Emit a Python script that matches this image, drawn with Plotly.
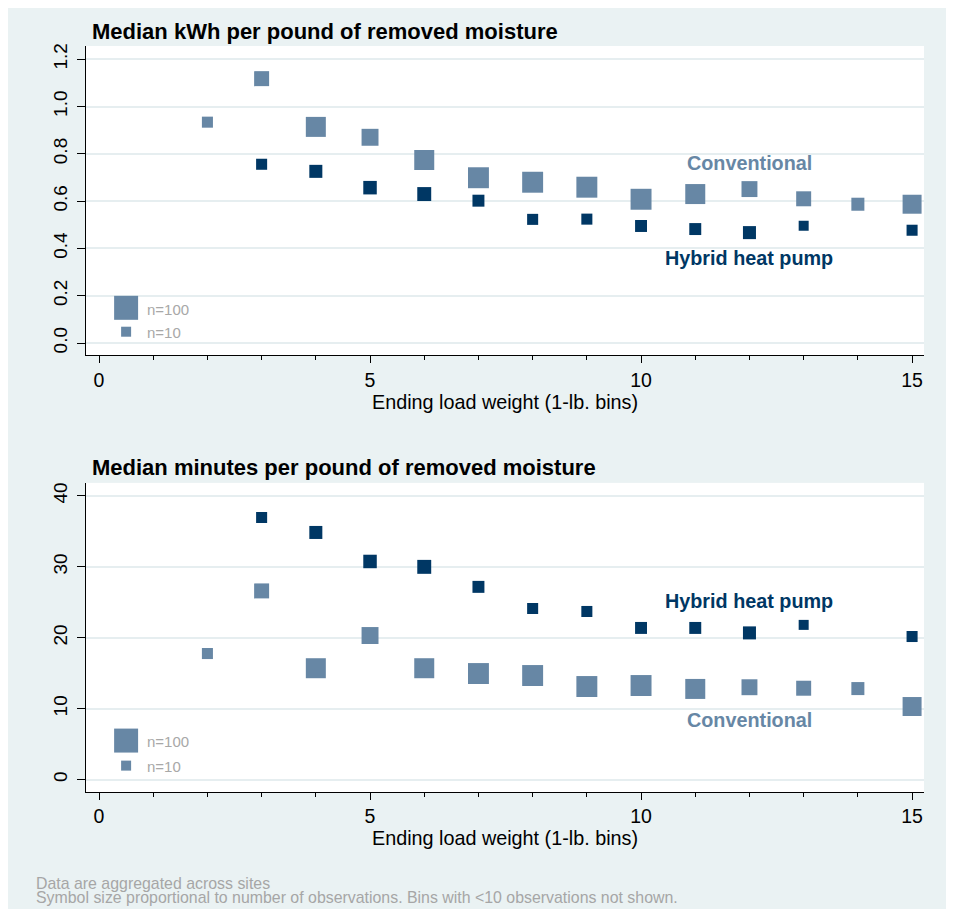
import plotly.graph_objects as go

# ---------------- data ----------------
conv_x = [2, 3, 4, 5, 6, 7, 8, 9, 10, 11, 12, 13, 14, 15]
conv_kwh = [0.934, 1.118, 0.914, 0.870, 0.774, 0.699, 0.680, 0.659, 0.608, 0.630, 0.651, 0.610, 0.587, 0.587]
conv_min = [17.77, 26.60, 15.70, 20.31, 15.70, 14.95, 14.67, 13.12, 13.26, 12.78, 13.02, 12.88, 12.83, 10.30]
conv_n = [13, 29, 62, 40, 62, 70, 70, 70, 70, 62, 34, 29, 20, 54]

hyb_x = [3, 4, 5, 6, 7, 8, 9, 10, 11, 12, 13, 15]
hyb_kwh = [0.756, 0.726, 0.657, 0.630, 0.602, 0.523, 0.524, 0.495, 0.482, 0.467, 0.496, 0.477]
hyb_min = [36.95, 34.84, 30.75, 29.99, 27.17, 24.12, 23.70, 21.38, 21.38, 20.68, 21.81, 20.17]
hyb_n = [13, 20, 22, 24, 16, 13, 13, 16, 16, 20, 10, 13]

legend_n = [100, 10]
legend_labels = ["n=100", "n=10"]

titles = ["Median kWh per pound of removed moisture",
          "Median minutes per pound of removed moisture"]
x_title = "Ending load weight (1-lb. bins)"
series_names = ["Conventional", "Hybrid heat pump"]
notes = ["Data are aggregated across sites",
         "Symbol size proportional to number of observations. Bins with <10 observations not shown."]

# ---------------- style ----------------
CONV = "#6787a5"
HYB = "#003764"
BG = "#eaf2f3"
GRID = "#e6eef0"
FONT = "Liberation Sans, Arial, Helvetica, sans-serif"
OFF = 8                     # default page body margin
W, H = 954 - OFF, 909 - OFF
# plot area in page pixels: x 86..924, y 46..791.7
ML = 86 - OFF
MT = 46 - OFF
MR = 954 - 924
MB = 909 - 791.7
PW, PH = W - ML - MR, H - MT - MB


def msize(n):
    return 10 * (n / 10) ** 0.38


def py(px):  # page pixel y -> paper y
    return 1 - (px - OFF - MT) / PH


def pxx(px):  # page pixel x -> paper x
    return (px - OFF - ML) / PW


fig = go.Figure()

panels = [
    dict(xa="x", ya="y", conv=conv_kwh, hyb=hyb_kwh, leg_y=[0.149, 0.048], leg_ty=[0.14, 0.044],
         conv_lab=0.760, hyb_lab=0.358),
    dict(xa="x2", ya="y2", conv=conv_min, hyb=hyb_min, leg_y=[5.5, 1.97], leg_ty=[5.3, 1.78],
         conv_lab=8.36, hyb_lab=25.19),
]

annotations = []
for p in panels:
    fig.add_trace(go.Scatter(
        x=conv_x, y=p["conv"], mode="markers", xaxis=p["xa"], yaxis=p["ya"],
        marker=dict(symbol="square", size=[msize(n) for n in conv_n], color=CONV, opacity=1,
                    line=dict(width=0)),
        showlegend=False, hoverinfo="x+y"))
    fig.add_trace(go.Scatter(
        x=hyb_x, y=p["hyb"], mode="markers", xaxis=p["xa"], yaxis=p["ya"],
        marker=dict(symbol="square", size=[msize(n) for n in hyb_n], color=HYB, opacity=1,
                    line=dict(width=0)),
        showlegend=False, hoverinfo="x+y"))
    fig.add_trace(go.Scatter(
        x=[0.5, 0.5], y=p["leg_y"], mode="markers", xaxis=p["xa"], yaxis=p["ya"],
        marker=dict(symbol="square", size=[msize(n) for n in legend_n], color=CONV, opacity=1,
                    line=dict(width=0)),
        showlegend=False, hoverinfo="skip"))
    for lab, ty in zip(legend_labels, p["leg_ty"]):
        annotations.append(dict(x=0.855, y=ty, xref=p["xa"], yref=p["ya"], text=lab, showarrow=False,
                                xanchor="left", yanchor="middle",
                                font=dict(family=FONT, size=15, color="#a8a8a8")))
    annotations.append(dict(x=12, y=p["conv_lab"], xref=p["xa"], yref=p["ya"],
                            text="<b>" + series_names[0] + "</b>", showarrow=False,
                            font=dict(family=FONT, size=19.8, color=CONV)))
    annotations.append(dict(x=12, y=p["hyb_lab"], xref=p["xa"], yref=p["ya"],
                            text="<b>" + series_names[1] + "</b>", showarrow=False,
                            font=dict(family=FONT, size=19.8, color=HYB)))

# panel titles
for t, ypx in zip(titles, [31.5, 467]):
    annotations.append(dict(x=pxx(90), y=py(ypx), xref="paper", yref="paper", text="<b>" + t + "</b>",
                            showarrow=False, xanchor="left", yanchor="middle",
                            font=dict(family=FONT, size=22, color="#000000")))
# notes
for t, ypx in zip(notes, [883.0, 897.0]):
    annotations.append(dict(x=pxx(34), y=py(ypx), xref="paper", yref="paper", text=t,
                            showarrow=False, xanchor="left", yanchor="middle",
                            font=dict(family=FONT, size=15.9, color="#a6a6a6")))

xcommon = dict(range=[-0.24, 15.22], tick0=0, dtick=5, ticks="outside", ticklen=7, tickwidth=1,
               tickcolor="#000000", showline=True, linecolor="#000000", linewidth=1,
               showgrid=False, zeroline=False,
               minor=dict(ticks="outside", ticklen=4, dtick=1, tickcolor="#000000", showgrid=False),
               tickfont=dict(family=FONT, size=19.5, color="#000000"),
               title=dict(text=x_title, font=dict(family=FONT, size=19.8, color="#000000"), standoff=3))
ycommon = dict(ticks="outside", ticklen=8, tickwidth=1, tickcolor="#000000", showline=True,
               linecolor="#000000", linewidth=1, showgrid=True, gridcolor=GRID, gridwidth=1.5,
               zeroline=False, tickangle=-90, ticklabelstandoff=2,
               tickfont=dict(family=FONT, size=19, color="#000000"))

top_bottom = py(355)
bot_top = py(482.7)

fig.update_layout(
    width=W, height=H,
    margin=dict(l=ML, r=MR, t=MT, b=MB),
    paper_bgcolor=BG, plot_bgcolor="#ffffff",
    xaxis=dict(domain=[0, 1], anchor="y", **xcommon),
    yaxis=dict(domain=[top_bottom, 1], anchor="x", range=[-0.051, 1.256], tick0=0, dtick=0.2,
               tickformat=".1f", **ycommon),
    xaxis2=dict(domain=[0, 1], anchor="y2", **xcommon),
    yaxis2=dict(domain=[0, bot_top], anchor="x2", range=[-1.75, 41.83], tick0=0, dtick=10, **ycommon),
    annotations=annotations,
    showlegend=False,
)

fig.write_html("out.html")
